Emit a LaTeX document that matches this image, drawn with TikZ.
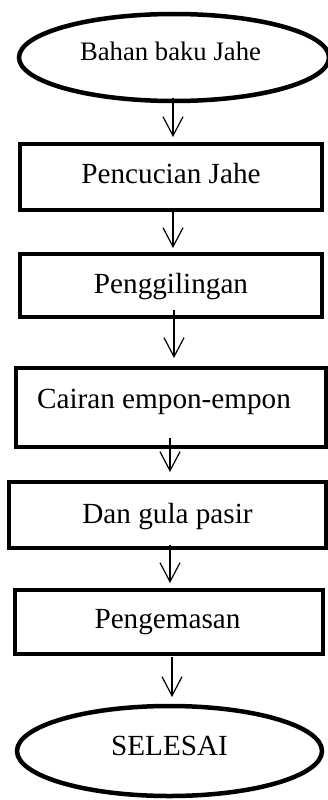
\documentclass[tikz,border=0pt]{standalone}
\usepackage{fontspec}
\setmainfont{Liberation Serif}
\usetikzlibrary{shapes.geometric,arrows.meta}
\tikzset{
  shapebox/.style={draw=black, line width=4.5pt, outer sep=0pt, inner sep=0pt, text depth=10pt},
  procbox/.style={shapebox, rectangle},
  termbox/.style={shapebox, ellipse},
  arr/.style={draw=black, line width=1.2pt, -{Straight Barb[length=19pt,width=20pt]}},
  bigtxt/.style={font=\fontsize{29.2pt}{35pt}\selectfont},
  smalltxt/.style={font=\fontsize{26.7pt}{32pt}\selectfont}
}
\begin{document}
\begin{tikzpicture}[x=1pt,y=-1pt]
\useasboundingbox (0,0) rectangle (328,800);
\clip (0,0) rectangle (328,800);
\node[termbox, smalltxt, minimum width=310pt, minimum height=87pt, text height=15pt] (e1) at (174,57.5) {Bahan baku Jahe\hspace*{7pt}};
\node[procbox, bigtxt, minimum width=302pt, minimum height=66pt, text height=22pt] (b1) at (171,177) {Pencucian Jahe};
\node[procbox, bigtxt, minimum width=302pt, minimum height=63pt, text height=25pt] (b2) at (171,285.5) {Penggilingan};
\node[procbox, bigtxt, minimum width=310pt, minimum height=79pt, text height=11pt] (b3) at (171,407.5) {Cairan empon-empon\hspace*{14pt}};
\node[procbox, bigtxt, minimum width=317pt, minimum height=66pt, text height=26pt] (b4) at (167.5,515) {Dan gula pasir};
\node[procbox, bigtxt, minimum width=308pt, minimum height=64pt, text height=22pt] (b5) at (169,622) {Pengemasan\hspace*{3pt}};
\node[termbox, bigtxt, minimum width=305pt, minimum height=90pt, text height=18pt] (e2) at (169.5,751) {SELESAI};
\draw[arr] ([shift={(-1,-3)}]e1.south) -- ([shift={(2,-7)}]b1.north);
\draw[arr] ([shift={(2,0)}]b1.south) -- ([shift={(2,-6)}]b2.north);
\draw[arr] ([shift={(3,-7)}]b2.south) -- ([shift={(3,-10)}]b3.north);
\draw[arr] ([shift={(-1,-9)}]b3.south) -- ([shift={(2.5,-10)}]b4.north);
\draw[arr] ([shift={(2.5,-3)}]b4.south) -- ([shift={(1,-7)}]b5.north);
\draw[arr] ([shift={(3,3)}]b5.south) -- ([shift={(2.5,-9)}]e2.north);
\end{tikzpicture}
\end{document}
